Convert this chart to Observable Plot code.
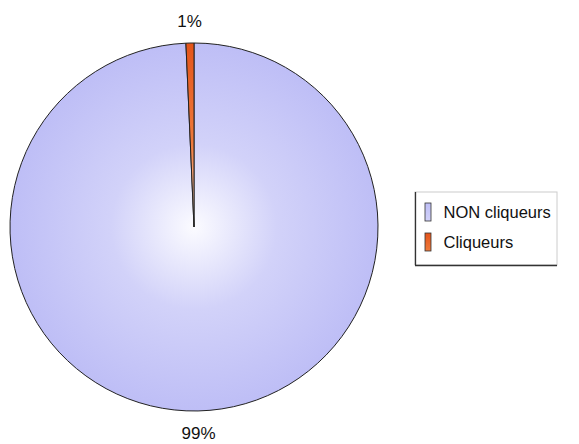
<!DOCTYPE html>
<html><head><meta charset="utf-8">
<script src="https://cdn.jsdelivr.net/npm/d3@7"></script>
<script src="https://cdn.jsdelivr.net/npm/@observablehq/plot@0.6"></script>
<style>body{margin:0;background:#fff}</style>
</head><body><div id="chart"></div>
<script>
const categories = ["NON cliqueurs", "Cliqueurs"];
const values = [99.3, 0.7];
const labels = ["99%", "1%"];
const colors = ["#bebef6", "#e4541a"];
const midColors = ["#d2d2f9", "#ee7a3c"];
const innerColors = ["#fbfbff", "#fde2d0"];

const W = 579, H = 444;
const cx = 194, cy = 227, R = 184;

const data = categories.map((c, i) => ({category: c, value: values[i], label: labels[i], i}));
const arcs = d3.pie().sort(null).value(d => d.value)(data);

function defsMark() {
  const svg = d3.create("svg:defs");
  data.forEach((d, i) => {
    const g = svg.append("radialGradient").attr("id", "g" + i)
      .attr("gradientUnits", "userSpaceOnUse").attr("cx", 0).attr("cy", 0).attr("r", R);
    g.append("stop").attr("offset", "0%").attr("stop-color", innerColors[i]);
    g.append("stop").attr("offset", "45%").attr("stop-color", midColors[i]);
    g.append("stop").attr("offset", "100%").attr("stop-color", colors[i]);
    const s = svg.append("linearGradient").attr("id", "s" + i).attr("x1", 0).attr("y1", 1).attr("x2", 0).attr("y2", 0);
    s.append("stop").attr("offset", "0%").attr("stop-color", midColors[i]);
    s.append("stop").attr("offset", "100%").attr("stop-color", colors[i]);
  });
  return svg.node();
}

function pieMark(index, scales) {
  const g = d3.create("svg:g").attr("transform", `translate(${scales.x(cx)},${scales.y(cy)})`);
  const arc = d3.arc().innerRadius(0).outerRadius(R);
  g.selectAll("path").data(arcs).join("path")
    .attr("d", arc)
    .attr("fill", (d, i) => `url(#g${i})`)
    .attr("stroke", "#222").attr("stroke-width", 1).attr("stroke-linejoin", "round");
  const la = d3.arc().innerRadius(R + 22).outerRadius(R + 22);
  g.selectAll("text").data(arcs).join("text")
    .attr("transform", d => { const [x, y] = la.centroid(d); return `translate(${x},${y})`; })
    .attr("text-anchor", "middle").attr("dy", "0.35em")
    .attr("font-family", "Liberation Sans, Arial, sans-serif").attr("font-size", 17).attr("fill", "#111")
    .text(d => d.data.label);
  return g.node();
}

const legendRows = data.map((d, i) => ({...d, row: i}));
const lx = 415, ly = 192, lw = 142, lh = 73, rowY = [212, 242];

const plot = Plot.plot({
  width: W, height: H,
  margin: 0,
  x: {domain: [0, W], range: [0, W]},
  y: {domain: [0, H], range: [0, H]},
  axis: null,
  marks: [
    defsMark,
    pieMark,
    Plot.rect([0], {x1: lx, x2: lx + lw, y1: ly, y2: ly + lh, fill: "white", stroke: "#ccc", strokeWidth: 1}),
    Plot.ruleX([lx], {y1: ly, y2: ly + lh, stroke: "#333", strokeWidth: 1.3}),
    Plot.ruleY([ly + lh], {x1: lx, x2: lx + lw, stroke: "#333", strokeWidth: 1.3}),
    Plot.rect(legendRows, {x1: lx + 10, x2: lx + 16, y1: d => rowY[d.row] - 9, y2: d => rowY[d.row] + 9,
      fill: d => `url(#s${d.row})`, stroke: "#333", strokeWidth: 0.8}),
    Plot.text(legendRows, {x: lx + 28, y: d => rowY[d.row], text: "category", textAnchor: "start",
      fontSize: 16.5, fontFamily: "Liberation Sans, Arial, sans-serif", fill: "#111"})
  ]
});
document.getElementById("chart").appendChild(plot);
</script>
</body></html>
